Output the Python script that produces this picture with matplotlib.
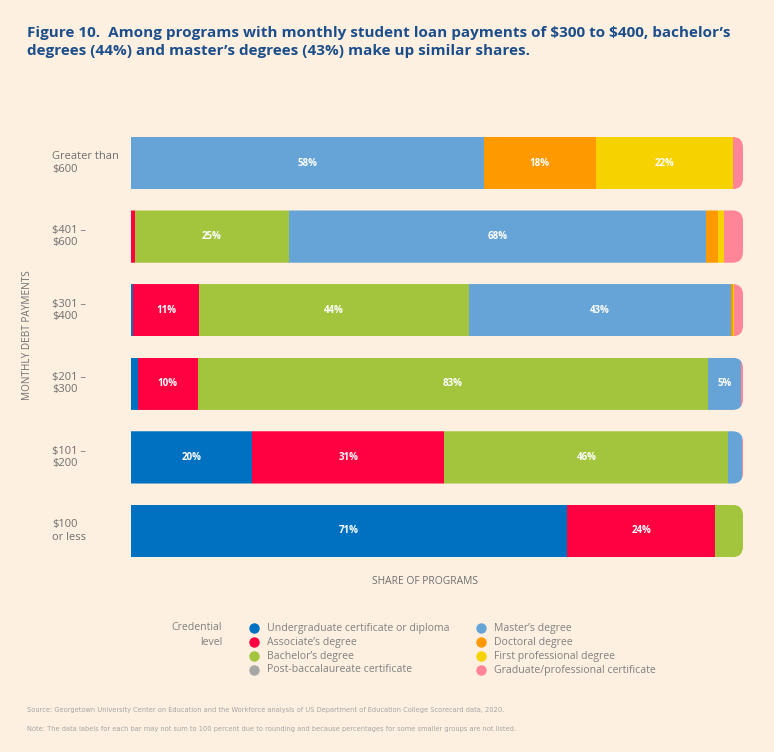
import matplotlib
matplotlib.use('Agg')
import matplotlib.pyplot as plt
import matplotlib.transforms as mtransforms
from matplotlib import font_manager
import numpy as np
from matplotlib.patches import FancyBboxPatch

plt.rcParams['font.family'] = ['Open Sans', 'DejaVu Sans']

# rows top to bottom
categories = ["Greater than\n\\$600", "\\$401 \u2013\n\\$600", "\\$301 \u2013\n\\$400",
              "\\$201 \u2013\n\\$300", "\\$101 \u2013\n\\$200", "\\$100\nor less"]

credentials = ["Undergraduate certificate or diploma", "Associate\u2019s degree",
               "Bachelor\u2019s degree", "Post-baccalaureate certificate",
               "Master\u2019s degree", "Doctoral degree",
               "First professional degree", "Graduate/professional certificate"]

# share of programs (%) for each credential, one value per row
undergrad = [0.0, 0.0, 0.3, 1.1, 19.8, 71.2]
associate = [0.0, 0.6, 10.8, 9.8, 31.4, 24.3]
bachelor = [0.0, 25.2, 44.1, 83.4, 46.4, 4.5]
post_bacc = [0.0, 0.0, 0.0, 0.0, 0.0, 0.0]
masters = [57.6, 68.1, 42.8, 5.3, 2.3, 0.0]
doctoral = [18.4, 2.0, 0.3, 0.0, 0.0, 0.0]
first_prof = [22.4, 1.0, 0.2, 0.0, 0.0, 0.0]
grad_cert = [1.6, 3.1, 1.5, 0.4, 0.1, 0.0]

series = [undergrad, associate, bachelor, post_bacc, masters, doctoral, first_prof, grad_cert]
colors = ["#0070C0", "#FF0040", "#A3C43D", "#A6A6A6",
          "#66A3D6", "#FF9900", "#F6D300", "#FF8597"]

bg = "#FEF0E1"
fig = plt.figure(figsize=(7.74, 7.52), dpi=100, facecolor=bg)
ax = fig.add_axes([131 / 774, 1 - 580.3 / 752, 612 / 774, 466.6 / 752])
ax.set_facecolor(bg)

y = np.arange(len(categories))
h = 0.71
left = np.zeros(len(categories))
bars = []
for vals, c in zip(series, colors):
    vals = np.array(vals)
    b = ax.barh(y, vals, left=left, height=h, color=c, linewidth=0)
    bars.append(b)
    for yi, v, l in zip(y, vals, left):
        if v >= 5:
            ax.text(l + v / 2, yi, f"{round(v)}%", ha='center', va='center',
                    color='white', fontsize=7, fontweight='bold')
    left += vals

# rounded right ends: clip each row to a rounded box
for i in range(len(categories)):
    clip = FancyBboxPatch((-10, y[i] - h / 2), 110, h,
                          boxstyle="round,pad=0,rounding_size=1.7",
                          mutation_aspect=0.085, transform=ax.transData,
                          facecolor='none', edgecolor='none')
    ax.add_patch(clip)
    for b in bars:
        b[i].set_clip_path(clip)

ax.set_xlim(0, 100)
ax.set_ylim(5.67, -0.67)
ax.axis('off')

# row labels
trans = mtransforms.blended_transform_factory(fig.transFigure, ax.transData)
for yi, cat in zip(y, categories):
    ax.text(52 / 774, yi, cat, ha='left', va='center', fontsize=8,
            color='#6E6E6E', linespacing=1.15, transform=trans)

fig.text(0.036, 1 - 335 / 752, "MONTHLY DEBT PAYMENTS", rotation=90,
         ha='center', va='center', fontsize=7.2, color='#6E6E6E')
fig.text(425 / 774, 1 - 581 / 752, "SHARE OF PROGRAMS", ha='center',
         va='center', fontsize=7.4, color='#6E6E6E')

# title
title_color = '#1B4E8A'
fig.text(27 / 774, 1 - 33 / 752,
         "Figure 10.  Among programs with monthly student loan payments of \\$300 to \\$400, bachelor\u2019s",
         ha='left', va='center', fontsize=11.0, color=title_color, fontweight='bold')
fig.text(27 / 774, 1 - 51 / 752,
         "degrees (44%) and master\u2019s degrees (43%) make up similar shares.",
         ha='left', va='center', fontsize=11.0, color=title_color, fontweight='bold')

# legend
fig.text(222 / 774, 1 - 635 / 752, "Credential\nlevel", ha='right', va='center',
         fontsize=7.6, color='#808080', linespacing=1.45)
rows_y = [628, 642, 656, 670]
for k, (name, c) in enumerate(zip(credentials, colors)):
    col, row = divmod(k, 4)
    mx = [254, 481][col]
    yy = 1 - rows_y[row] / 752
    fig.add_artist(plt.Line2D([mx / 774], [yy], marker='o', markersize=6.5,
                              color=c, linestyle='none'))
    fig.text((mx + 13) / 774, yy, name, ha='left', va='center',
             fontsize=7.6, color='#808080')

# footnotes use a narrow face when one is installed
names = {f.name for f in font_manager.fontManager.ttflist}
stretches = {(f.name, f.stretch) for f in font_manager.fontManager.ttflist}
note_kw = dict(family=['Open Sans', 'DejaVu Sans'], fontsize=5.3)
if 'Liberation Sans Narrow' in names:
    note_kw = dict(family=['Liberation Sans Narrow', 'DejaVu Sans'], fontsize=6.2)
elif any(n == 'DejaVu Sans' and s == 'condensed' for n, s in stretches):
    note_kw = dict(family=['DejaVu Sans'], fontstretch='condensed', fontsize=5.3)

source = "Source: Georgetown University Center on Education and the Workforce analysis of US Department of Education College Scorecard data, 2020."
note = "Note: The data labels for each bar may not sum to 100 percent due to rounding and because percentages for some smaller groups are not listed."
fig.text(27 / 774, 1 - 710 / 752, source, ha='left', va='center',
         color='#A5A5A5', **note_kw)
fig.text(27 / 774, 1 - 729 / 752, note, ha='left', va='center',
         color='#A5A5A5', **note_kw)

fig.savefig('out.png', dpi=100, facecolor=bg)
